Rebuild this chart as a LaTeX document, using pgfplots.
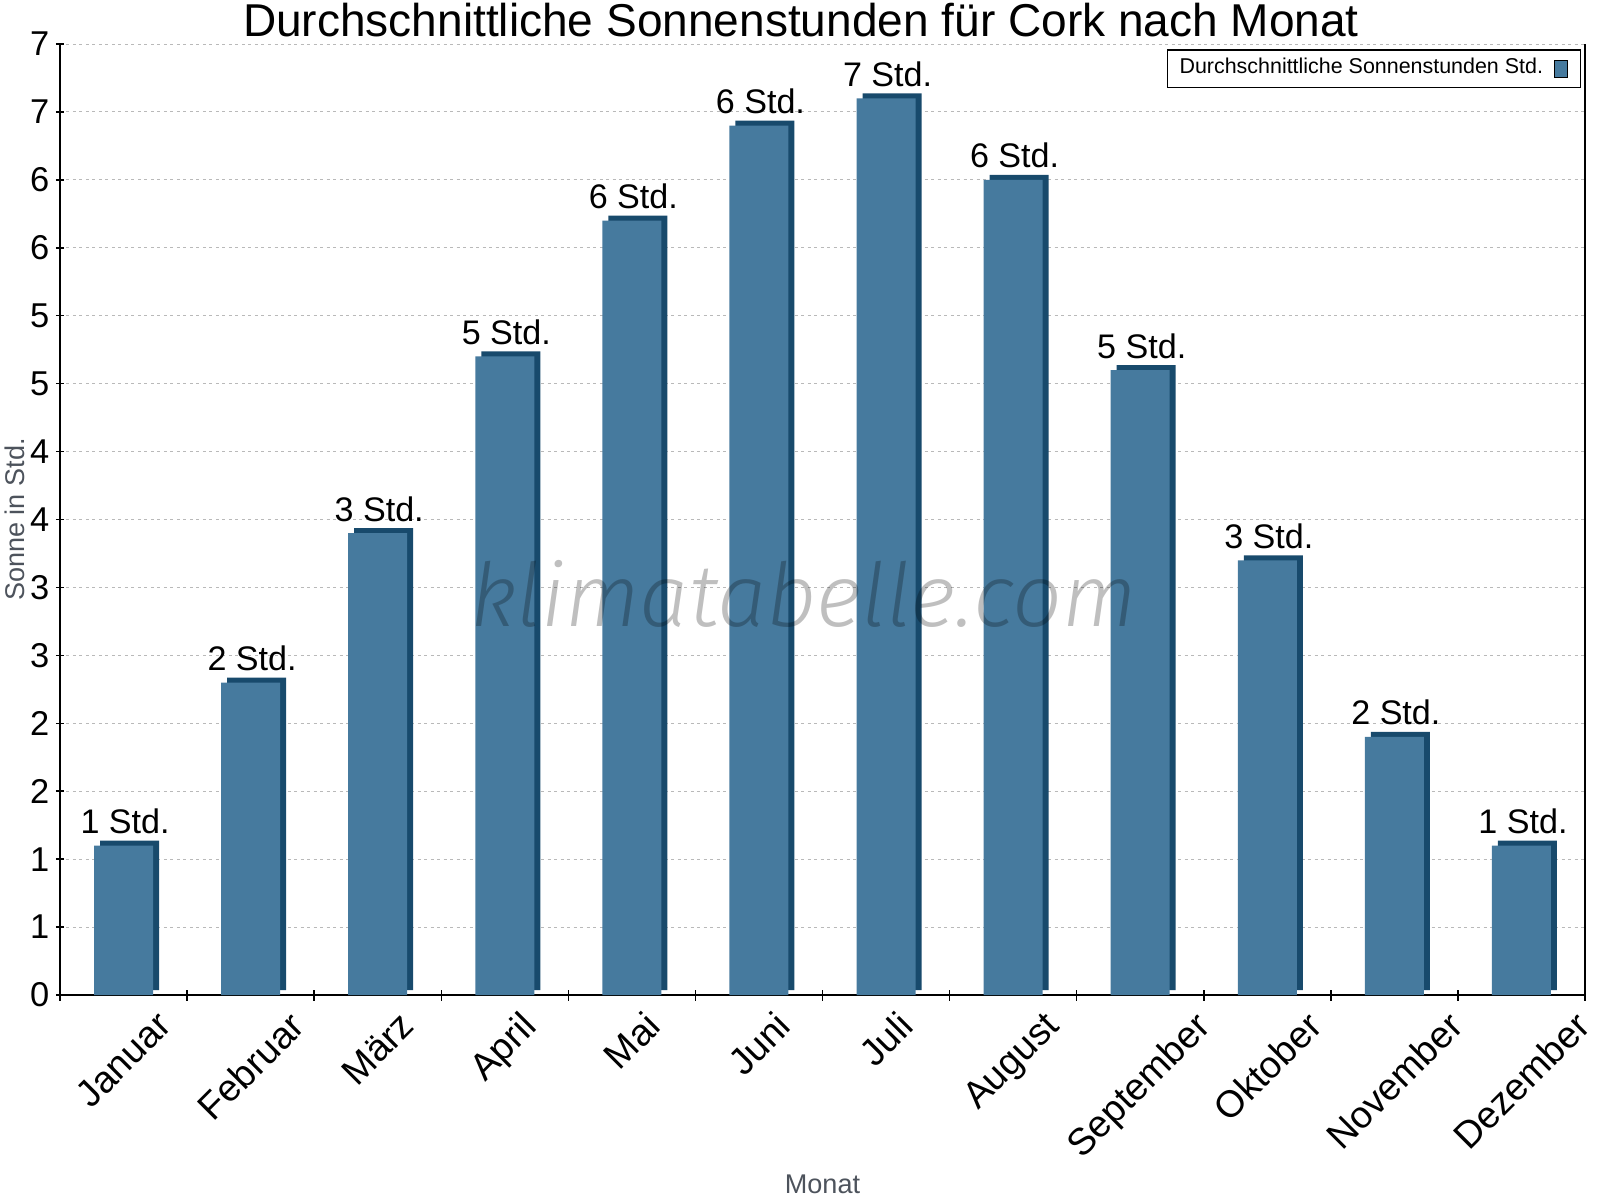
\documentclass[border=0pt]{standalone}
\usepackage{fontspec}
\setmainfont{Liberation Sans}
\newfontfamily\wmfont{Fira Sans Light Italic}
\usepackage{graphicx}
\usepackage{pgfplots}
\pgfplotsset{compat=1.18}

\definecolor{barfront}{RGB}{70,122,158}
\definecolor{barside}{RGB}{24,74,108}
\definecolor{labelgray}{RGB}{77,83,92}
\definecolor{gridgray}{RGB}{185,185,185}

\begin{document}
\begin{tikzpicture}
% page frame: 1 px of the reference = 0.1 mm
\path[use as bounding box] (-6mm,-20.5mm) rectangle (154mm,99.5mm);
\begin{axis}[
  at={(0,0)}, anchor=south west,
  scale only axis,
  width=152.5mm, height=95.1mm,
  xmin=-0.5, xmax=11.5, ymin=0, ymax=7,
  axis x line*=bottom, axis y line*=box,
  axis line style={line width=0.2mm},
  ybar, bar width=5.9mm, bar shift=0pt,
  xtick={0,...,11},
  xticklabels={\rotatebox{45}{Januar},\rotatebox{45}{Februar},\rotatebox{45}{März},
    \rotatebox{45}{April},\rotatebox{45}{Mai},\rotatebox{45}{Juni},\rotatebox{45}{Juli},
    \rotatebox{45}{August},\rotatebox{45}{September},\rotatebox{45}{Oktober},
    \rotatebox{45}{November},\rotatebox{45}{Dezember}},
  minor xtick={-0.5,0.5,...,11.5},
  xtick pos=bottom, ytick pos=left,
  major x tick style={draw=none},
  tick align=center,
  major tick length=0.8mm, minor tick length=1.1mm,
  tick style={line width=0.15mm, black},
  ytick={0,0.5,...,7},
  yticklabels={0,1,1,2,2,3,3,4,4,5,5,6,6,7,7},
  /pgf/number format/assume math mode=true,
  x tick label style={anchor=north, inner sep=0pt, yshift=-1mm,
    font=\fontsize{10.7pt}{12pt}\selectfont},
  y tick label style={inner sep=0pt, xshift=-0.6mm,
    font=\fontsize{9.8pt}{11pt}\selectfont},
  ymajorgrids,
  major grid style={draw=gridgray, line width=0.1mm, dash pattern=on 0.3mm off 0.35mm},
  xlabel={Monat},
  xlabel style={at={(axis description cs:0.5,0)}, anchor=base, yshift=-19.8mm,
    text=labelgray, font=\fontsize{7.7pt}{9pt}\selectfont},
  ylabel={Sonne in Std.},
  ylabel style={at={(axis description cs:0,0.5)}, anchor=base, yshift=3.5mm,
    text=labelgray, font=\fontsize{7.7pt}{9pt}\selectfont},
  legend style={at={(1,1)}, anchor=north east, xshift=-0.4mm, yshift=-0.5mm,
    draw=black, line width=0.15mm, inner xsep=1.2mm, inner ysep=0pt,
    column sep=1.1mm,
    nodes={inner ysep=0.85mm, inner xsep=0pt},
    font=\fontsize{6.1pt}{7pt}\selectfont},
  legend plot pos=right,
  legend image code/.code={\draw[fill=barfront, draw=black, line width=0.12mm]
    (0mm,-0.85mm) rectangle (1.3mm,0.85mm);},
  nodes near coords,
  every node near coord/.append style={inner sep=0pt, anchor=south, yshift=1.1mm,
    xshift=0.15mm, font=\fontsize{9.7pt}{11pt}\selectfont, text=black},
]
% dark top and side of each bar
\addplot[fill=barside, draw=none, xshift=0.6mm, yshift=0.5mm, forget plot,
  nodes near coords=\empty]
  coordinates {(0,1.1) (1,2.3) (2,3.4) (3,4.7) (4,5.7) (5,6.4)
               (6,6.6) (7,6.0) (8,4.6) (9,3.2) (10,1.9) (11,1.1)};
% front faces with labels
\addplot[fill=barfront, draw=none, point meta=explicit symbolic]
  coordinates {(0,1.1) [1 Std.] (1,2.3) [2 Std.] (2,3.4) [3 Std.]
               (3,4.7) [5 Std.] (4,5.7) [6 Std.] (5,6.4) [6 Std.]
               (6,6.6) [7 Std.] (7,6.0) [6 Std.] (8,4.6) [5 Std.]
               (9,3.2) [3 Std.] (10,1.9) [2 Std.] (11,1.1) [1 Std.]};
\addlegendentry{Durchschnittliche Sonnenstunden Std.}
\end{axis}
\node[anchor=base, font=\fontsize{13.1pt}{15pt}\selectfont] at (74.1mm,95.8mm)
  {Durchschnittliche Sonnenstunden für Cork nach Monat};
\node[font=\fontsize{25pt}{30pt}\wmfont, text=black, text opacity=0.25]
  at (74.4mm,40.1mm) {klimatabelle.com};
\end{tikzpicture}
\end{document}
